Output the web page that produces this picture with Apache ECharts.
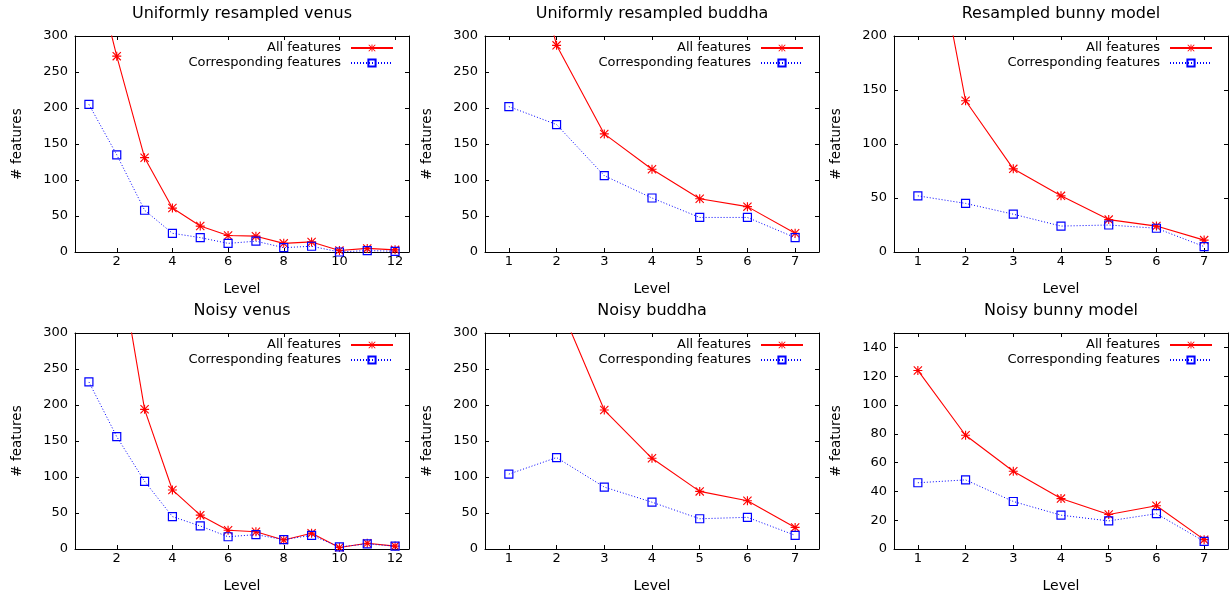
<!DOCTYPE html>
<html>
<head>
<meta charset="utf-8">
<script src="https://cdn.jsdelivr.net/npm/echarts@6/dist/echarts.min.js"></script>
<style>html,body{margin:0;padding:0;background:#fff;}#c{width:1231px;height:595px;}</style>
</head>
<body>
<div id="c"></div>
<script>
// ---- data ----
const levels12 = [1, 2, 3, 4, 5, 6, 7, 8, 9, 10, 11, 12];
const levels7 = [1, 2, 3, 4, 5, 6, 7];

const uniVenusAll  = [427, 272, 131, 61, 36, 23, 22, 12, 14, 2, 5, 3];
const uniVenusCorr = [205, 135, 58, 26, 20, 12, 15, 6, 8, 0, 2, 1];
const uniBuddhaAll  = [550, 287, 164, 115, 74, 63, 26];
const uniBuddhaCorr = [202, 177, 106, 75, 48, 48, 20];
const uniBunnyAll  = [372, 140, 77, 52, 30, 24, 11];
const uniBunnyCorr = [52, 45, 35, 24, 25, 22, 5];

const noisyVenusAll  = [650, 422, 194, 82, 47, 26, 24, 12.5, 22, 2, 8, 4];
const noisyVenusCorr = [232, 156, 94, 45, 32, 17, 20, 13, 19, 3, 7, 4];
const noisyBuddhaAll  = [500, 349, 193, 126, 80, 67, 30];
const noisyBuddhaCorr = [104, 127, 86, 65, 42, 44, 19];
const noisyBunnyAll  = [124, 79, 54, 35, 24, 30, 6.5];
const noisyBunnyCorr = [46, 48, 33, 23.5, 19.5, 24.5, 5.3];

const xTicks12 = [2, 4, 6, 8, 10, 12];
const xTicks7 = [1, 2, 3, 4, 5, 6, 7];
const yTicks300 = [0, 50, 100, 150, 200, 250, 300];
const yTicks200 = [0, 50, 100, 150, 200];
const yTicks140 = [0, 20, 40, 60, 80, 100, 120, 140];

const titles = ['Uniformly resampled venus', 'Uniformly resampled buddha', 'Resampled bunny model',
                'Noisy venus', 'Noisy buddha', 'Noisy bunny model'];
const seriesNames = ['All features', 'Corresponding features'];
const xLabel = 'Level';
const yLabel = '# features';

const panels = [
  {levels: levels12, all: uniVenusAll, corr: uniVenusCorr, xMax: 12.5, yMax: 300, xt: xTicks12, yt: yTicks300},
  {levels: levels7, all: uniBuddhaAll, corr: uniBuddhaCorr, xMax: 7.5, yMax: 300, xt: xTicks7, yt: yTicks300},
  {levels: levels7, all: uniBunnyAll, corr: uniBunnyCorr, xMax: 7.5, yMax: 200, xt: xTicks7, yt: yTicks200},
  {levels: levels12, all: noisyVenusAll, corr: noisyVenusCorr, xMax: 12.5, yMax: 300, xt: xTicks12, yt: yTicks300},
  {levels: levels7, all: noisyBuddhaAll, corr: noisyBuddhaCorr, xMax: 7.5, yMax: 300, xt: xTicks7, yt: yTicks300},
  {levels: levels7, all: noisyBunnyAll, corr: noisyBunnyCorr, xMax: 7.5, yMax: 150, xt: xTicks7, yt: yTicks140}
];

// ---- layout ----
const FONT = 'DejaVu Sans';
const gridLefts = [75, 485, 894];
const gridTops = [36, 333];
const GW = 334, GH = 216;
const W = 1231;

const asterisk = 'path://M0 7L16 7L16 9L0 9Z M7 0L9 0L9 16L7 16Z M1.4 0L16 14.6L14.6 16L0 1.4Z M14.6 0L16 1.4L1.4 16L0 14.6Z';

const grids = [], xAxes = [], yAxes = [], series = [], legends = [], graphics = [];

panels.forEach((p, i) => {
  const col = i % 3, row = Math.floor(i / 3);
  const left = gridLefts[col], top = gridTops[row];
  grids.push({left: left, top: top, width: GW, height: GH, show: false, containLabel: false});
  const tickCommon = {show: true, inside: true, length: 4, lineStyle: {color: '#000', width: 1}};
  const lineCommon = {show: true, onZero: false, lineStyle: {color: '#000', width: 1}};
  const bx = xAxes.length;
  xAxes.push({
    type: 'value', gridIndex: i, position: 'bottom', min: 0.5, max: p.xMax,
    axisLine: lineCommon, splitLine: {show: false},
    axisTick: Object.assign({customValues: p.xt}, tickCommon),
    axisLabel: {customValues: p.xt, color: '#000', fontFamily: FONT, fontSize: 13, margin: 3},
    name: xLabel, nameLocation: 'middle', nameGap: 30,
    nameTextStyle: {color: '#000', fontFamily: FONT, fontSize: 14}
  });
  xAxes.push({
    type: 'value', gridIndex: i, position: 'top', min: 0.5, max: p.xMax,
    axisLine: lineCommon, splitLine: {show: false},
    axisTick: Object.assign({customValues: p.xt}, tickCommon),
    axisLabel: {show: false}
  });
  const by = yAxes.length;
  yAxes.push({
    type: 'value', gridIndex: i, position: 'left', min: 0, max: p.yMax,
    axisLine: lineCommon, splitLine: {show: false},
    axisTick: Object.assign({customValues: p.yt}, tickCommon),
    axisLabel: {customValues: p.yt, color: '#000', fontFamily: FONT, fontSize: 13, margin: 7},
    name: yLabel, nameLocation: 'middle', nameGap: 51, nameRotate: 90,
    nameTextStyle: {color: '#000', fontFamily: FONT, fontSize: 13.5}
  });
  yAxes.push({
    type: 'value', gridIndex: i, position: 'right', min: 0, max: p.yMax,
    axisLine: lineCommon, splitLine: {show: false},
    axisTick: Object.assign({customValues: p.yt}, tickCommon),
    axisLabel: {show: false}
  });
  series.push({
    name: seriesNames[0], type: 'line', xAxisIndex: bx, yAxisIndex: by,
    data: p.levels.map((l, k) => [l, p.all[k]]),
    symbol: asterisk, symbolSize: 9, clip: true,
    lineStyle: {color: '#ff0000', width: 1.1, type: 'solid'},
    itemStyle: {color: '#ff0000', borderWidth: 0},
    animation: false
  });
  series.push({
    name: seriesNames[1], type: 'line', xAxisIndex: bx, yAxisIndex: by,
    data: p.levels.map((l, k) => [l, p.corr[k]]),
    symbol: 'rect', symbolSize: 8, clip: true,
    lineStyle: {color: '#0000ff', width: 1, type: [1, 2]},
    itemStyle: {color: 'rgba(0,0,0,0)', borderColor: '#0000ff', borderWidth: 1.2},
    animation: false
  });
  legends.push({
    data: seriesNames, orient: 'vertical', align: 'right', padding: 0,
    right: W - (left + GW - 15), top: top + 5,
    itemWidth: 42, itemHeight: 9, itemGap: 1, selectedMode: false,
    textStyle: {color: '#000', fontFamily: FONT, fontSize: 13, lineHeight: 14, padding: [0, 5, 0, 0]}
  });
  graphics.push({
    type: 'text', x: left + GW / 2, y: row === 0 ? 6 : 303,
    style: {text: titles[i], font: '16px "DejaVu Sans"', fill: '#000', textAlign: 'center', textVerticalAlign: 'top'}
  });
});

const chart = echarts.init(document.getElementById('c'), null, {renderer: 'canvas'});
chart.setOption({
  animation: false,
  backgroundColor: '#fff',
  grid: grids, xAxis: xAxes, yAxis: yAxes, series: series, legend: legends,
  graphic: graphics
});
</script>
</body>
</html>
